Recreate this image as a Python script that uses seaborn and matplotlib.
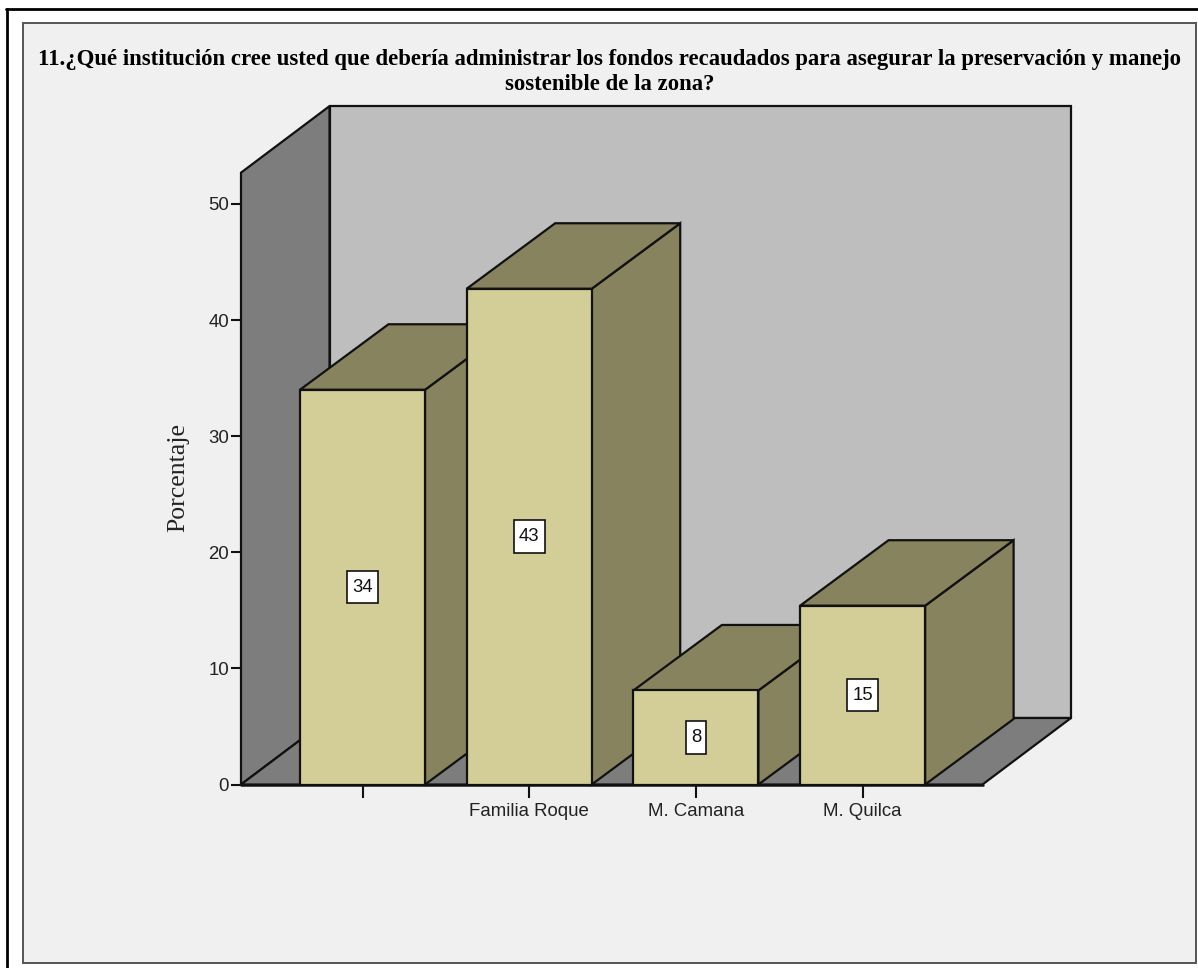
import matplotlib
matplotlib.use("Agg")
import matplotlib.pyplot as plt
from matplotlib.patches import Polygon, Rectangle
from matplotlib.path import Path
import pandas as pd
import seaborn as sns

# Survey responses, percent of respondents
categories = ["", "Familia Roque", "M. Camana", "M. Quilca"]
percentages = [34.0, 42.7, 8.1, 15.4]
y_ticks = [0, 10, 20, 30, 40, 50]
title_lines = (
    "11.¿Qué institución cree usted que debería administrar los fondos recaudados "
    "para asegurar la preservación y manejo\nsostenible de la zona?"
)

W, H = 1198, 968
FRONT_COLOR = "#D3CE97"
SHADE_COLOR = "#87835F"
WALL_COLOR = "#BEBEBE"
SIDE_COLOR = "#7D7D7D"
PANEL_COLOR = "#F0F0F0"
LINE = "#111111"

sns.set_theme(style="white")
plt.rcParams["font.family"] = ["Liberation Sans", "DejaVu Sans"]

fig = plt.figure(figsize=(W / 100, H / 100), dpi=100, facecolor="white")

# Picture frame and the light panel behind the chart
bg = fig.add_axes([0, 0, 1, 1], zorder=0)
bg.set_xlim(0, W)
bg.set_ylim(H, 0)
bg.axis("off")
bg.add_patch(Rectangle((23, 23), 1173, 940, fc=PANEL_COLOR, ec="#555555", lw=1.4))
bg.plot([6.5, 6.5], [H, 9], color="black", lw=2)
bg.plot([6, W], [9, 9], color="black", lw=2)

# Plot axes run from the front-left corner of the floor to the top of the back wall
px_left, px_right, px_base, px_top = 241, 1071, 784.5, 107
px_per_unit = (784.5 - 204) / 50
px_per_cat = 166.7
ax = fig.add_axes(
    [px_left / W, 1 - px_base / H, (px_right - px_left) / W, (px_base - px_top) / H],
    zorder=1,
)
ax.patch.set_alpha(0)
df = pd.DataFrame({"category": categories, "percent": percentages})
sns.barplot(
    data=df, x=[0, 1, 2, 3], y="percent", native_scale=True, width=0.75, ax=ax,
    color=FRONT_COLOR, saturation=1, edgecolor=LINE, linewidth=1.6, errorbar=None,
)
x0 = (362.5 - px_left) / px_per_cat
ax.set_xlim(-x0, (px_right - px_left) / px_per_cat - x0)
ax.set_ylim(0, (px_base - px_top) / px_per_unit)

# Extrusion depth of the box, in data units
dx = 88.5 / px_per_cat
dy = 65.5 / px_per_unit
xl, xr = ax.get_xlim()
wall_dy = (px_base - 718) / px_per_unit
y_wall = 52.7


def face(points, color, z):
    ax.add_patch(Polygon(points, closed=True, fc=color, ec=LINE, lw=1.6, zorder=z,
                         joinstyle="miter", clip_on=False))


def label_box(x, y, width, height, size):
    """Square value tag, a little taller than it is wide around two digits."""
    px, py = 0.27 * size, 0.42 * size
    left, right, bottom, top = x - px, x + width + px, y - py, y + height + py
    return Path(
        [(left, bottom), (right, bottom), (right, top), (left, top), (left, bottom)],
        closed=True,
    )


# Left wall, floor, back wall
front_right = xr - dx
face([(xl + dx, wall_dy), (xr, wall_dy), (xr, wall_dy + y_wall), (xl + dx, wall_dy + y_wall)],
     WALL_COLOR, 0.5)
face([(xl, 0), (xl + dx, wall_dy), (xl + dx, wall_dy + y_wall), (xl, y_wall)], SIDE_COLOR, 0.6)
face([(xl, 0), (front_right, 0), (xr, wall_dy), (xl + dx, wall_dy)], SIDE_COLOR, 0.7)

# Extrude each bar: later bars sit on top of the shaded faces of earlier ones
for i, bar in enumerate(ax.patches[:len(percentages)]):
    x_a, x_b = bar.get_x(), bar.get_x() + bar.get_width()
    h = bar.get_height()
    z = 2 + i
    face([(x_b, 0), (x_b + dx, dy), (x_b + dx, h + dy), (x_b, h)], SHADE_COLOR, z)
    face([(x_a, h), (x_a + dx, h + dy), (x_b + dx, h + dy), (x_b, h)], SHADE_COLOR, z)
    bar.set_zorder(z + 0.1)
    ax.text(
        (x_a + x_b) / 2, h / 2, f"{h:.0f}", ha="center", va="center", fontsize=13.4,
        color="#111111", zorder=z + 0.2,
        bbox=dict(boxstyle=label_box, fc="white", ec=LINE, lw=1.2),
    )

for side in ax.spines.values():
    side.set_visible(False)
ax.plot([xl, front_right], [0, 0], color=LINE, lw=1.8, zorder=10, clip_on=False)

ax.set_yticks(y_ticks)
ax.set_xticks(range(len(categories)))
ax.set_xticklabels(categories)
ax.tick_params(axis="y", length=7.5, width=1.5, color=LINE, labelsize=13.4,
               labelcolor="#222222", left=True, pad=1)
ax.tick_params(axis="x", length=9, width=1.5, color=LINE, labelsize=13.4,
               labelcolor="#222222", bottom=True, pad=4)
ax.set_xlabel("")
ax.set_ylabel("")

fig.text(178 / W, 1 - 478 / H, "Porcentaje", rotation=90, ha="center", va="center",
         fontsize=18.5, color="#222222", family=["Liberation Serif", "DejaVu Serif"])
fig.text(610 / W, 1 - 72 / H, title_lines, ha="center", va="center", fontsize=16.4,
         fontweight="bold", color="black", family=["Liberation Serif", "DejaVu Serif"],
         linespacing=1.3)

fig.savefig("out.png", dpi=100, facecolor="white")
